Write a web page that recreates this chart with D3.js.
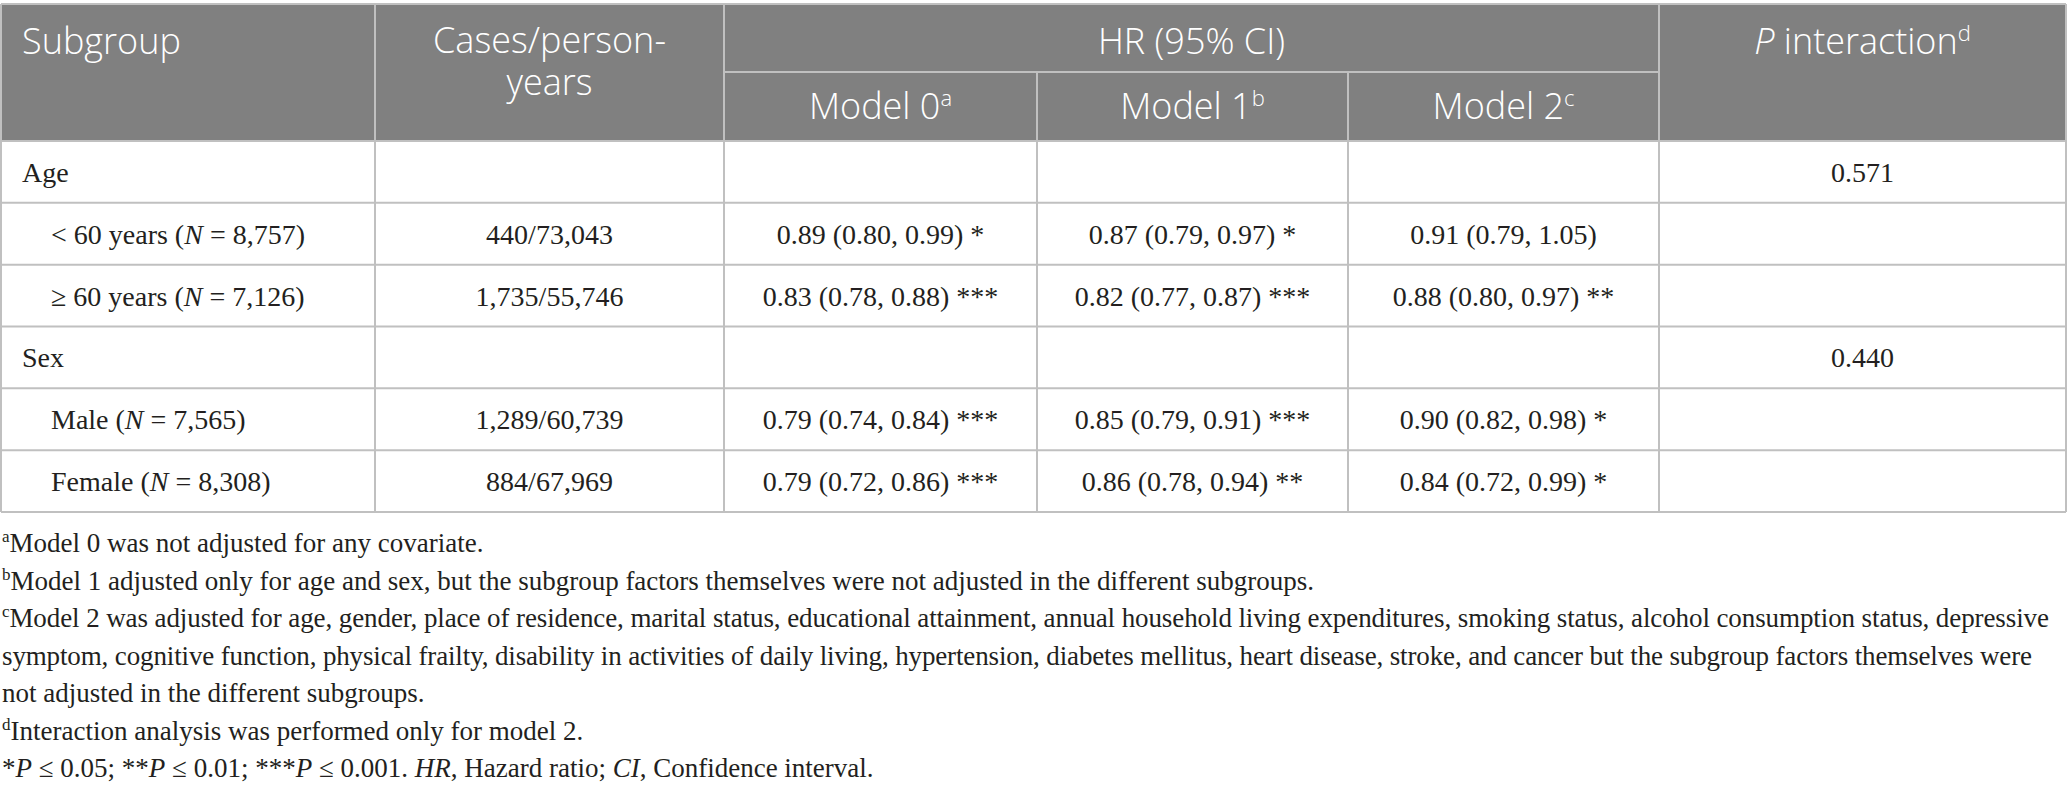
<!DOCTYPE html>
<html>
<head>
<meta charset="utf-8">
<script src="https://cdn.jsdelivr.net/npm/d3@7"></script>
<style>
  body { margin: 0; background: #fff; }
  svg { display: block; }
</style>
</head>
<body>
<div id="chart-container"></div>
<script>
// table values
const subgroups = ['Age', '< 60 years (N = 8,757)', '≥ 60 years (N = 7,126)', 'Sex', 'Male (N = 7,565)', 'Female (N = 8,308)']
const isHeading = [true, false, false, true, false, false]
const cases = ['', '440/73,043', '1,735/55,746', '', '1,289/60,739', '884/67,969']
const model0 = ['', '0.89 (0.80, 0.99) *', '0.83 (0.78, 0.88) ***', '', '0.79 (0.74, 0.84) ***', '0.79 (0.72, 0.86) ***']
const model1 = ['', '0.87 (0.79, 0.97) *', '0.82 (0.77, 0.87) ***', '', '0.85 (0.79, 0.91) ***', '0.86 (0.78, 0.94) **']
const model2 = ['', '0.91 (0.79, 1.05)', '0.88 (0.80, 0.97) **', '', '0.90 (0.82, 0.98) *', '0.84 (0.72, 0.99) *']
const pInteraction = ['0.571', '', '', '0.440', '', '']
const modelNames = ['Model 0', 'Model 1', 'Model 2']
const modelMarks = ['a', 'b', 'c']
const casesHeader = ['Cases/person-', 'years']

// footnotes: [superscript mark, list of [text, italic?], justified width or null]
const footnotes = [
  ['a', [['Model 0 was not adjusted for any covariate.', false]], null],
  ['b', [['Model 1 adjusted only for age and sex, but the subgroup factors themselves were not adjusted in the different subgroups.', false]], null],
  ['c', [['Model 2 was adjusted for age, gender, place of residence, marital status, educational attainment, annual household living expenditures, smoking status, alcohol consumption status, depressive', false]], 2049],
  ['', [['symptom, cognitive function, physical frailty, disability in activities of daily living, hypertension, diabetes mellitus, heart disease, stroke, and cancer but the subgroup factors themselves were', false]], 2032],
  ['', [['not adjusted in the different subgroups.', false]], null],
  ['d', [['Interaction analysis was performed only for model 2.', false]], null],
  ['', [['*', false], ['P', true], [' ≤ 0.05; **', false], ['P', true], [' ≤ 0.01; ***', false], ['P', true], [' ≤ 0.001. ', false], ['HR', true], [', Hazard ratio; ', false], ['CI', true], [', Confidence interval.', false]], null]
]

// layout
const width = 2068
const height = 792
const colEdges = [1, 375, 724, 1037, 1348, 1659, 2066]
const tableTop = 4
const subTop = 72
const headBottom = 141
const tableBottom = 512
const headFill = '#808080'
const gridColor = '#c0c0c0'
const textColor = '#231f20'
const sans = '"Open Sans", "Noto Sans", sans-serif'
const serif = '"Liberation Serif", "DejaVu Serif", serif'

const svg = d3.select('#chart-container')
  .append('svg')
  .attr('width', width)
  .attr('height', height)

const yRow = d3.scaleBand()
  .domain(d3.range(subgroups.length))
  .range([headBottom, tableBottom])

const colCenter = i => (colEdges[i] + colEdges[i + 1]) / 2

// header background
svg.append('rect')
  .attr('x', colEdges[0])
  .attr('y', tableTop)
  .attr('width', colEdges[6] - colEdges[0])
  .attr('height', headBottom - tableTop)
  .attr('fill', headFill)

// header text
const head = svg.append('g')
  .attr('font-family', sans)
  .attr('font-weight', 300)
  .attr('font-size', 36)
  .attr('fill', '#fff')

head.append('text').attr('x', 22).attr('y', 54).text('Subgroup')

// two-line header kept in one text element
head.append('text')
  .attr('y', 53)
  .attr('text-anchor', 'middle')
  .selectAll('tspan')
  .data(casesHeader)
  .join('tspan')
  .attr('x', colCenter(1))
  .attr('dy', (d, i) => i === 0 ? 0 : 42)
  .text(d => d)

head.append('text').attr('x', (colEdges[2] + colEdges[5]) / 2).attr('y', 54).attr('text-anchor', 'middle').text('HR (95% CI)')

modelNames.forEach((m, i) => {
  const t = head.append('text')
    .attr('x', colCenter(i + 2))
    .attr('y', 119)
    .attr('text-anchor', 'middle')
  t.append('tspan').text(m)
  t.append('tspan').attr('font-size', 22).attr('dy', -13).text(modelMarks[i])
})

const pt = head.append('text')
  .attr('x', colCenter(5))
  .attr('y', 54)
  .attr('text-anchor', 'middle')
pt.append('tspan').attr('font-style', 'italic').text('P')
pt.append('tspan').text(' interaction')
pt.append('tspan').attr('font-size', 22).attr('dy', -13).text('d')

// grid lines
const grid = svg.append('g')
  .attr('stroke', gridColor)
  .attr('stroke-width', 2)
  .attr('fill', 'none')

grid.append('line').attr('x1', colEdges[0]).attr('x2', colEdges[6]).attr('y1', tableTop).attr('y2', tableTop)
grid.append('line').attr('x1', colEdges[2]).attr('x2', colEdges[5]).attr('y1', subTop).attr('y2', subTop)
grid.selectAll('.hrow')
  .data(d3.range(subgroups.length + 1))
  .join('line')
  .attr('x1', colEdges[0])
  .attr('x2', colEdges[6])
  .attr('y1', d => d === subgroups.length ? tableBottom : yRow(d))
  .attr('y2', d => d === subgroups.length ? tableBottom : yRow(d))
grid.selectAll('.vcol')
  .data(colEdges)
  .join('line')
  .attr('x1', d => d)
  .attr('x2', d => d)
  .attr('y1', (d, i) => (i === 3 || i === 4) ? subTop : tableTop)
  .attr('y2', tableBottom)

// body cells
const body = svg.append('g')
  .attr('font-family', serif)
  .attr('font-size', 28)
  .attr('fill', textColor)

const baseY = i => yRow(i) + yRow.bandwidth() / 2 + 10

subgroups.forEach((s, i) => {
  const t = body.append('text')
    .attr('x', isHeading[i] ? 22 : 51)
    .attr('y', baseY(i))
  const k = s.indexOf('(N')
  if (k < 0) {
    t.text(s)
  } else {
    t.append('tspan').text(s.slice(0, k + 1))
    t.append('tspan').attr('font-style', 'italic').text('N')
    t.append('tspan').text(s.slice(k + 2))
  }
})

const columns = [cases, model0, model1, model2, pInteraction]
columns.forEach((col, c) => {
  body.selectAll(null)
    .data(col)
    .join('text')
    .attr('x', colCenter(c + 1))
    .attr('y', (d, i) => baseY(i))
    .attr('text-anchor', 'middle')
    .text(d => d)
})

// footnotes
const notes = svg.append('g')
  .attr('font-family', serif)
  .attr('font-size', 27)
  .attr('fill', textColor)

footnotes.forEach(([mark, parts, justify], i) => {
  const t = notes.append('text')
    .attr('x', 2)
    .attr('y', 552 + i * 37.5)
  if (mark) {
    t.append('tspan').attr('font-size', 17).attr('dy', -10).text(mark)
  }
  parts.forEach(([txt, it], j) => {
    const sp = t.append('tspan').text(txt)
    if (it) sp.attr('font-style', 'italic')
    if (mark && j === 0) sp.attr('dy', 10)
  })
  if (justify) {
    t.attr('textLength', justify - 2).attr('lengthAdjust', 'spacing')
  }
})
</script>
</body>
</html>
